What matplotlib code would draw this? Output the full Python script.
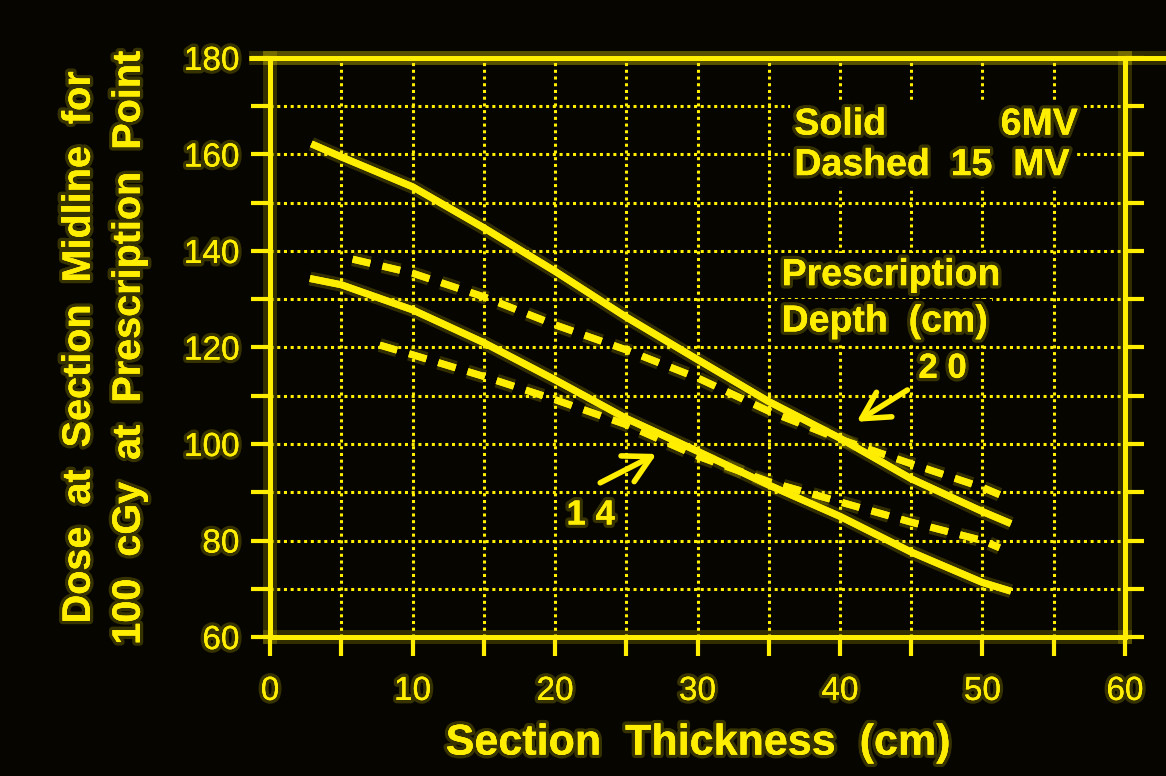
import matplotlib
matplotlib.use('Agg')

import matplotlib.pyplot as plt
import matplotlib.patheffects as pe
from matplotlib.ticker import MultipleLocator

# Section thickness (cm) vs dose at section midline
x_6mv_20 = [2.9, 5, 10, 15, 20, 25, 30, 35, 40, 45, 50, 52]
y_6mv_20 = [162.2, 159.5, 153.3, 144.8, 135.8, 126.3, 117.5, 108.8, 101.2, 92.8, 86.0, 83.5]

x_15mv_20 = [5.8, 10, 15, 20, 25, 30, 35, 40, 45, 50, 51.2]
y_15mv_20 = [138.3, 135.4, 130.5, 124.7, 119.5, 113.7, 106.8, 101.0, 95.9, 91.0, 89.5]

x_6mv_14 = [2.8, 5, 10, 15, 20, 25, 30, 35, 40, 45, 50, 52]
y_6mv_14 = [134.3, 133.0, 127.8, 121.0, 113.3, 105.3, 98.5, 91.5, 85.0, 77.6, 71.3, 69.5]

x_15mv_14 = [7.7, 10, 15, 20, 25, 30, 35, 40, 45, 50, 51.2]
y_15mv_14 = [120.5, 118.5, 114.0, 109.2, 104.0, 97.5, 92.2, 88.0, 83.8, 80.0, 78.5]

xticks = [0, 10, 20, 30, 40, 50, 60]
yticks = [60, 80, 100, 120, 140, 160, 180]

# depth labels and the arrows pointing at the curves (tail -> head)
depth_labels = ['2 0', '1 4']
depth_label_pos = [(47.2, 115.7), (22.5, 85.3)]
arrow_tails = [(44.9, 111.5), (23.0, 91.7)]
arrow_heads = [(41.0, 104.3), (27.3, 98.2)]

YEL = '#FFEE00'
BG = '#060500'

glow = [pe.withStroke(linewidth=10, foreground=(1, 0.93, 0, 0.18)), pe.Normal()]
tglow = [pe.withStroke(linewidth=5, foreground=(1, 0.93, 0, 0.2)), pe.Normal()]

plt.rcParams['font.family'] = ['Liberation Sans', 'DejaVu Sans']

fig = plt.figure(figsize=(11.66, 7.76), dpi=100, facecolor=BG)
ax = fig.add_axes([0.2316, 0.1791, 0.7332, 0.7462], facecolor=BG)

ax.set_xlim(0, 60)
ax.set_ylim(60, 180)

# dotted grid every 5 cm / 10 cGy
ax.xaxis.set_major_locator(MultipleLocator(10))
ax.xaxis.set_minor_locator(MultipleLocator(5))
ax.yaxis.set_major_locator(MultipleLocator(20))
ax.yaxis.set_minor_locator(MultipleLocator(10))
ax.grid(which='both', color=YEL, linestyle=(0, (1, 1.2)), linewidth=2.2, zorder=0)
ax.set_axisbelow(True)

for side in ['left', 'bottom', 'right', 'top']:
    ax.spines[side].set_color(YEL)
    ax.spines[side].set_linewidth(3.5)
    ax.spines[side].set_path_effects(glow)

ax.tick_params(which='both', direction='out', length=14, width=3, color=YEL,
               right=True, top=False)
ax.tick_params(axis='both', which='major', labelsize=24, labelcolor=YEL, pad=8)
ax.tick_params(axis='x', which='major', pad=14)
ax.set_xticks(xticks)
ax.set_yticks(yticks)
ax.set_xticklabels([str(v) for v in xticks])
ax.set_yticklabels([str(v) for v in yticks])
for lab in ax.get_xticklabels() + ax.get_yticklabels():
    lab.set_path_effects(tglow)

# top rule runs past the frame on the slide
ax.plot([-0.025, 1.06], [1, 1], transform=ax.transAxes, color=YEL, lw=3.5,
        clip_on=False, solid_capstyle='butt', path_effects=glow)

# curves
lw = 5
ax.plot(x_6mv_20, y_6mv_20, color=YEL, lw=lw, solid_capstyle='butt', path_effects=glow, zorder=3)
ax.plot(x_6mv_14, y_6mv_14, color=YEL, lw=lw, solid_capstyle='butt', path_effects=glow, zorder=3)
ax.plot(x_15mv_20, y_15mv_20, color=YEL, lw=lw, linestyle=(0, (2.6, 1.8)),
        dash_capstyle='butt', path_effects=glow, zorder=3)
ax.plot(x_15mv_14, y_15mv_14, color=YEL, lw=lw, linestyle=(0, (2.6, 1.8)),
        dash_capstyle='butt', path_effects=glow, zorder=3)

# legend-style notes on black boxes so the grid stays hidden behind them
box = dict(facecolor=BG, edgecolor='none', pad=3)
note = dict(color=YEL, fontsize=27, fontweight='bold', ha='left', va='center',
            bbox=box, path_effects=tglow, zorder=4)
ax.text(36.8, 166.2, 'Solid           6MV', **note)
ax.text(36.8, 157.8, 'Dashed  15  MV', **note)
ax.text(35.9, 135.0, 'Prescription', **note)
ax.text(35.9, 125.4, 'Depth  (cm)', **note)

for lab, pos, tail, head in zip(depth_labels, depth_label_pos, arrow_tails, arrow_heads):
    ax.text(pos[0], pos[1], lab, color=YEL, fontsize=25, fontweight='bold',
            ha='center', va='center', bbox=dict(facecolor=BG, edgecolor='none', pad=1),
            path_effects=tglow, zorder=4)
    ax.annotate('', xy=head, xytext=tail,
                arrowprops=dict(arrowstyle='->,head_length=1.2,head_width=0.65',
                                mutation_scale=16, color=YEL, lw=4), zorder=5)

ax.set_xlabel('Section  Thickness  (cm)', color=YEL, fontsize=31, fontweight='bold',
              labelpad=12, path_effects=tglow)
ax.set_ylabel('Dose  at  Section  Midline  for\n100  cGy  at  Prescription  Point',
              color=YEL, fontsize=28.5, fontweight='bold', labelpad=26,
              linespacing=1.4, path_effects=tglow)

fig.savefig('out.png', dpi=100, facecolor=BG)
plt.close(fig)
